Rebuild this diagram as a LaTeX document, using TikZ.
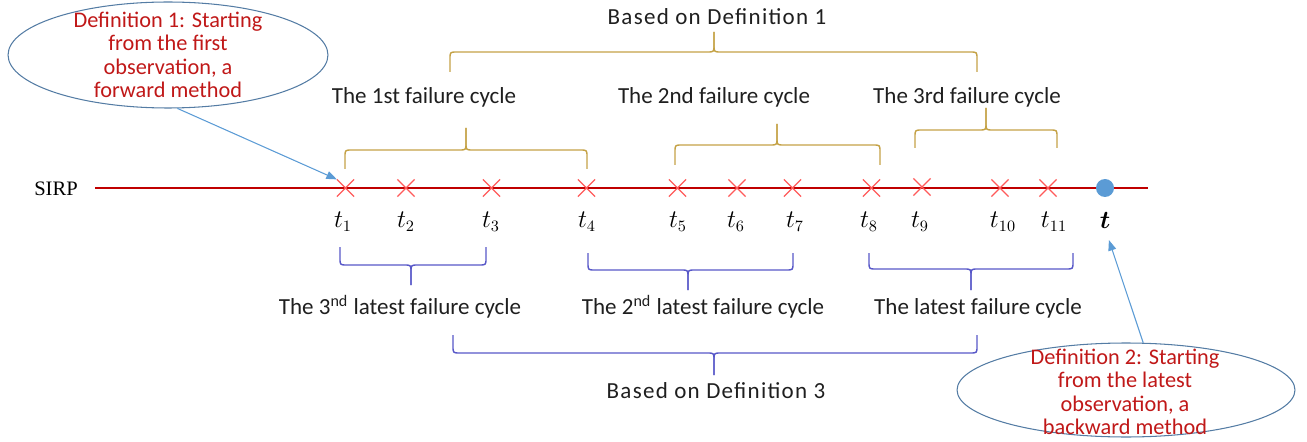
\documentclass[tikz,border=0pt]{standalone}
\usepackage{fontspec}
\setmainfont{Carlito}
\newfontfamily\timesfont{Liberation Serif}
\newfontfamily\widefont[LetterSpace=5.5]{Carlito}
\usepackage{bm}
\usetikzlibrary{shapes.geometric,shapes.misc,arrows.meta}
\definecolor{axisred}{RGB}{192,0,0}
\definecolor{crossred}{RGB}{255,90,90}
\definecolor{goldcol}{RGB}{196,162,70}
\definecolor{bracecol}{RGB}{88,88,200}
\definecolor{dotblue}{RGB}{91,155,213}
\definecolor{arrowblue}{RGB}{91,155,213}
\definecolor{ellcol}{RGB}{84,124,164}
\definecolor{defred}{RGB}{192,24,24}
\newcommand\cycbrace[8]{%
  \draw[#1] (#2,#5) -- ({#2},{#6+(#8)}) .. controls (#2,#6) .. ({#2+7},#6) -- ({#4-7},#6)
     .. controls (#4,#6) .. ({#4},{#6-(#8)}) -- (#4,#7);
  \draw[#1] (#4,#7) -- ({#4},{#6-(#8)}) .. controls (#4,#6) .. ({#4+7},#6) -- ({#3-7},#6)
     .. controls (#3,#6) .. ({#3},{#6+(#8)}) -- (#3,#5);}
\begin{document}
\begin{tikzpicture}[x=0.02cm,y=-0.02cm,
  txt/.style={font=\fontsize{13.1}{15}\selectfont, text=black!88, inner sep=0pt},
  widetxt/.style={font=\widefont\fontsize{13.1}{15}\selectfont, text=black!88, inner sep=0pt},
  deftxt/.style={font=\fontsize{12.7}{13.4}\selectfont, text=defred, align=center, inner sep=0pt},
  ell/.style={ellipse, draw=ellcol, line width=0.6pt, inner sep=0pt},
  xmark/.style={cross out, draw=crossred, line width=0.7pt, minimum size=0.32cm, inner sep=0pt},
  tlab/.style={font=\fontsize{13.5}{15}\selectfont, inner sep=0pt},
  gbrace/.style={draw=goldcol, line width=0.8pt},
  bbrace/.style={draw=bracecol, line width=0.8pt},
  pointer/.style={draw=arrowblue, line width=0.6pt, -{Triangle[length=6pt,width=4.5pt]}}
]
\useasboundingbox (0,0) rectangle (1307,442);
% axis
\node[inner sep=0pt, font=\timesfont\fontsize{11.7}{13}\selectfont] (sirp) at (56,189) {SIRP};
\coordinate (axL) at (95,188);
\coordinate (axR) at (1148,188);
\draw[axisred, line width=1.1pt] (axL) -- (axR);
% crosses
\foreach \i/\x/\y in {1/345.5/188,2/406/188,3/491.5/188,4/586.5/188,5/677.5/188,6/737/188,7/792.5/188,8/871.5/188,9/922/187,10/1000/188,11/1048/188}
  \node[xmark] (c\i) at (\x,\y) {};
\node[circle, fill=dotblue, minimum size=0.36cm, inner sep=0pt] (tdot) at (1105,188) {};
% labels
\foreach \i/\x in {1/343,2/406,3/491,4/587,5/678,6/736,7/795,8/869,9/920,10/1003,11/1054}
  \node[tlab] (l\i) at (\x,222) {$t_{\i}$};
\node[tlab] (lt) at (1105,220) {$\bm{t}$};
% top braces
\cycbrace{gbrace}{345}{587}{466}{169}{150}{128}{7}
\cycbrace{gbrace}{675}{880}{777}{165}{145}{124}{7}
\cycbrace{gbrace}{915}{1057}{986}{148}{130}{108}{7}
\cycbrace{gbrace}{450}{977}{714}{72}{52}{32}{7}
% bottom braces
\cycbrace{bbrace}{340}{486}{411}{247}{265}{285}{-7}
\cycbrace{bbrace}{588}{793}{688}{253}{270}{290}{-7}
\cycbrace{bbrace}{869}{1073}{971}{253}{269}{290}{-7}
\cycbrace{bbrace}{453}{977}{714}{335}{353}{375}{-7}
% texts
\node[widetxt] (def1) at (717,17) {Based on Definition 1};
\node[txt] (fc1) at (424,97) {The 1st failure cycle};
\node[txt] (fc2) at (714,97) {The 2nd failure cycle};
\node[txt] (fc3) at (967,97) {The 3rd failure cycle};
\node[txt] (lc3) at (400,307) {The 3\textsuperscript{nd} latest failure cycle};
\node[txt] (lc2) at (703,307) {The 2\textsuperscript{nd} latest failure cycle};
\node[txt] (lc1) at (978,308) {The latest failure cycle};
\node[widetxt] (def3) at (716,391) {Based on Definition 3};
% ellipses
\node[ell, minimum width=6.4cm, minimum height=2.12cm] (e1) at (168,55) {};
\node[deftxt] (e1t) at (168,55) {Definition 1: Starting\\from the first\\observation, a\\forward method};
\node[ell, minimum width=6.76cm, minimum height=1.88cm] (e2) at (1126,390) {};
\node[deftxt] (e2t) at (1125,392) {Definition 2: Starting\\from the latest\\observation, a\\backward method};
% pointers
\draw[pointer] (e1.-80) -- (c1.north west);
\draw[pointer, shorten >=7pt] (e2.70) -- (lt.south);
\end{tikzpicture}
\end{document}
